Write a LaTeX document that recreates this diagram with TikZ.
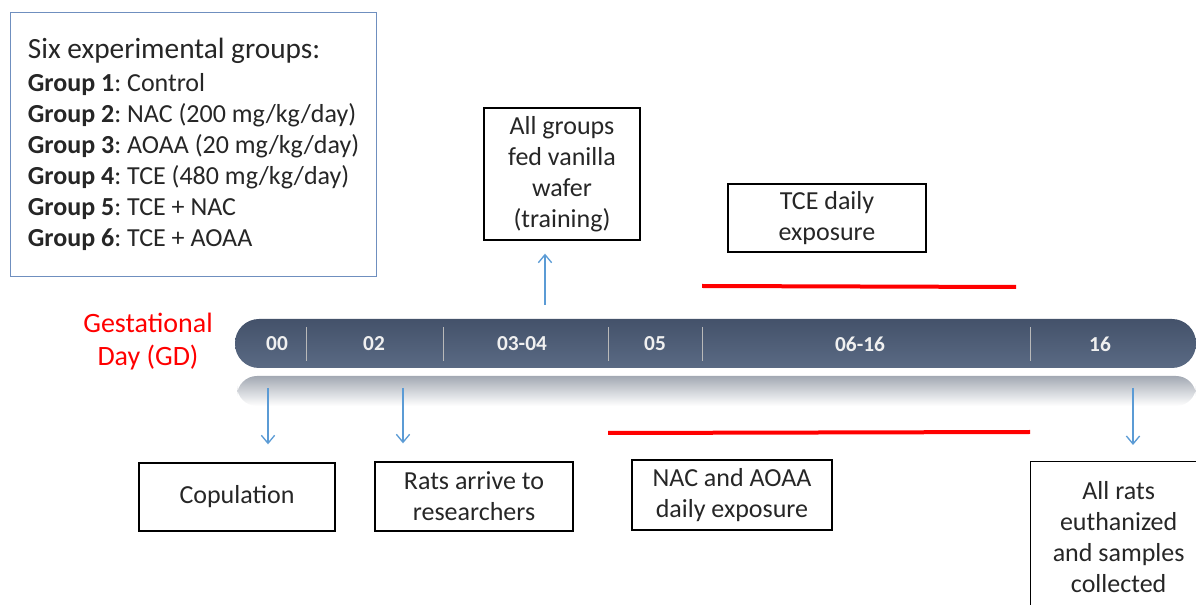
\documentclass[tikz,border=0pt]{standalone}
\usepackage{fontspec}
\setmainfont{Carlito}
\usetikzlibrary{arrows.meta,positioning}
\definecolor{barTop}{HTML}{44526A}
\definecolor{barBot}{HTML}{5A6A84}
\definecolor{reflGray}{HTML}{A3A9B3}
\definecolor{arrBlue}{HTML}{5B9BD5}
\definecolor{grpBlue}{HTML}{6F8FBF}
\definecolor{txt}{HTML}{262626}
\frenchspacing
\begin{document}
\begin{tikzpicture}[x=0.75pt,y=-0.75pt,
	evbox/.style={draw=black,line width=1pt,align=center,inner sep=0pt,text=txt,font=\fontsize{19.5}{23.25}\selectfont},
	uparr/.style={draw=arrBlue,line width=1pt,-{Straight Barb[length=6pt,width=10pt]}},
	span/.style={draw=red,line width=3pt},
	daylbl/.style={text=gray!12,font=\bfseries\fontsize{16}{18}\selectfont},
	divline/.style={draw=gray!55,line width=0.6pt}]
			\clip (0,0) rectangle (1196,605);
			% timeline bar and its reflection
			\shade[top color=reflGray,bottom color=white,rounded corners=15pt] (237,376) rectangle (1196,406);
			\shade[top color=barTop,bottom color=barBot,rounded corners=18pt] (235,319) rectangle (1196,368);
			\foreach \x in {306,443,608,702,1030} \draw[divline] (\x,327) -- (\x,361);
			\node[daylbl] (d00) at (277,344) {00};
			\node[daylbl] (d02) at (374,344) {02};
			\node[daylbl] (d0304) at (522,344) {03-04};
			\node[daylbl] (d05) at (655,344) {05};
			\node[daylbl] (d0616) at (860,344) {06-16};
			\node[daylbl] (d16) at (1100,344) {16};
			\node[text=red,align=center,font=\fontsize{21}{24.75}\selectfont] (gd) at (148,342) {Gestational\\Day (GD)};
			% groups
			\node[draw=grpBlue,line width=0.8pt,anchor=north west,minimum width=274.5pt,minimum height=198pt,inner xsep=10.5pt,align=left,text=txt,font=\fontsize{19.5}{23.25}\selectfont] (groups) at (10,12) {{\fontsize{22}{25}\selectfont Six experimental groups:}\\[1.5pt]
				\textbf{Group 1}: Control\\
				\textbf{Group 2}: NAC (200 mg/kg/day)\\
				\textbf{Group 3}: AOAA (20 mg/kg/day)\\
				\textbf{Group 4}: TCE (480 mg/kg/day)\\
				\textbf{Group 5}: TCE + NAC\\
				\textbf{Group 6}: TCE + AOAA};
			% events
			\node[evbox,minimum width=117pt,minimum height=99pt] (wafer) at (562,174) {All groups\\fed vanilla\\wafer\\(training)};
			\node[evbox,minimum width=148.5pt,minimum height=51pt] (tce) at (827,218) {TCE daily\\exposure};
			\node[evbox,minimum width=147pt,minimum height=51pt] (copu) at (237,497) {Copulation};
			\node[evbox,minimum width=148.5pt,minimum height=51.75pt] (rats) at (474,496.5) {Rats arrive to\\researchers};
			\node[evbox,minimum width=150pt,minimum height=52.5pt] (nac) at (732,495) {NAC and AOAA\\daily exposure};
			\node[evbox,anchor=north west,minimum width=132pt,minimum height=112.5pt] (allrats) at (1030,461) {All rats\\euthanized\\and samples\\collected};
			% arrows
			\coordinate (a0304) at (545,305);
			\coordinate (a00) at (268,388);
			\coordinate (a02) at (403,388);
			\coordinate (a16) at (1133,388);
			\draw[uparr,shorten >=9.75pt] (a0304) -- (a0304 |- wafer.south);
			\draw[uparr,shorten >=13.5pt] (a00) -- (a00 |- copu.north);
			\draw[uparr,shorten >=13.5pt] (a02) -- (a02 |- rats.north);
			\draw[uparr,shorten >=12pt] (a16) -- (a16 |- allrats.north);
			% exposure spans
			\coordinate (tceA) at (702,286);
			\coordinate (tceB) at (1016,287);
			\coordinate (nacA) at (608,433);
			\coordinate (nacB) at (1030,432);
			\draw[span] (tceA) -- (tceB);
			\draw[span] (nacA) -- (nacB);
		\end{tikzpicture}
\end{document}
